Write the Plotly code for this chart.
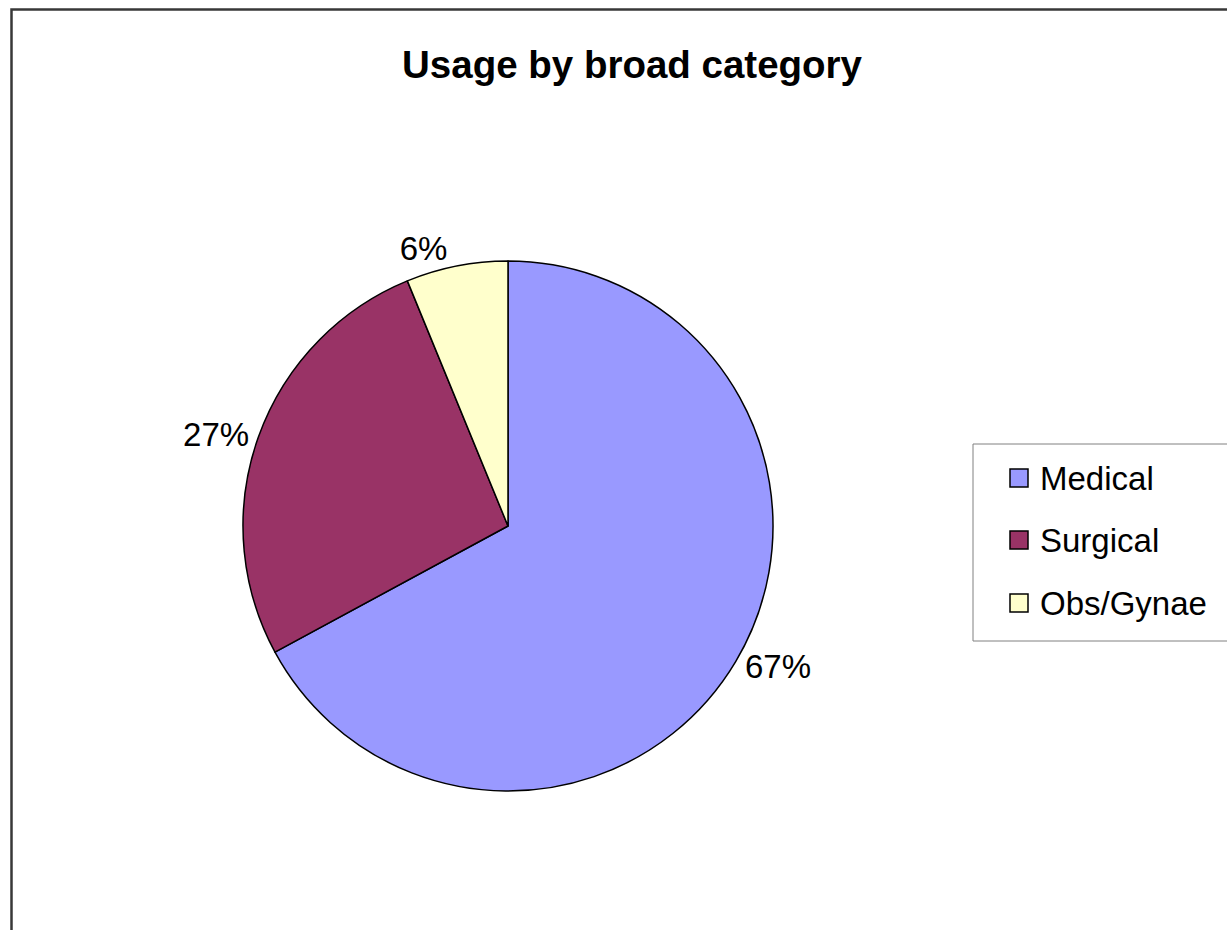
import plotly.graph_objects as go

categories = ["Medical", "Surgical", "Obs/Gynae"]
values = [67.1, 26.7, 6.2]
colors = ["#9999FF", "#993366", "#FFFFCC"]
title_text = "Usage by broad category"

W, H = 1227, 930
FONT = "Liberation Sans, Arial, sans-serif"

def px(x):
    return x / W

def py(y):
    return 1 - y / H

fig = go.Figure()
fig.add_trace(go.Pie(
    labels=categories,
    values=values,
    marker=dict(colors=colors, line=dict(color="#000000", width=1.5)),
    sort=False,
    direction="clockwise",
    rotation=0,
    textposition="outside",
    texttemplate="%{percent:.0%}",
    textfont=dict(family=FONT, size=33, color="#000000"),
    domain=dict(x=[px(243), px(773)], y=[py(791), py(261)]),
    showlegend=False,
    hoverinfo="label+percent",
))

shapes = [
    # chart area border
    dict(type="rect", xref="paper", yref="paper",
         x0=px(11.5), x1=px(W + 10), y0=py(H + 10), y1=py(9.5),
         line=dict(color="#383838", width=2.5), fillcolor="rgba(0,0,0,0)", layer="above"),
    # legend box
    dict(type="rect", xref="paper", yref="paper",
         x0=px(973), x1=px(W + 10), y0=py(641), y1=py(444),
         line=dict(color="#808080", width=1), fillcolor="#FFFFFF", layer="below"),
]
annotations = [
    dict(text="<b>" + title_text + "</b>", xref="paper", yref="paper",
         x=px(632), y=py(64), xanchor="center", yanchor="middle",
         showarrow=False, font=dict(family=FONT, size=38.5, color="#000000")),
]
item_y = [478, 540, 603]
for name, col, yy in zip(categories, colors, item_y):
    shapes.append(dict(type="rect", xref="paper", yref="paper",
                       x0=px(1010), x1=px(1028), y0=py(yy + 9), y1=py(yy - 9),
                       line=dict(color="#000000", width=1.5), fillcolor=col, layer="above"))
    annotations.append(dict(text=name, xref="paper", yref="paper",
                            x=px(1038), y=py(yy), xanchor="left", yanchor="middle",
                            showarrow=False, font=dict(family=FONT, size=33, color="#000000")))

fig.update_layout(
    width=W, height=H,
    margin=dict(l=0, r=0, t=0, b=0),
    paper_bgcolor="#FFFFFF",
    plot_bgcolor="#FFFFFF",
    shapes=shapes,
    annotations=annotations,
    showlegend=False,
)

fig.write_html("out.html")
